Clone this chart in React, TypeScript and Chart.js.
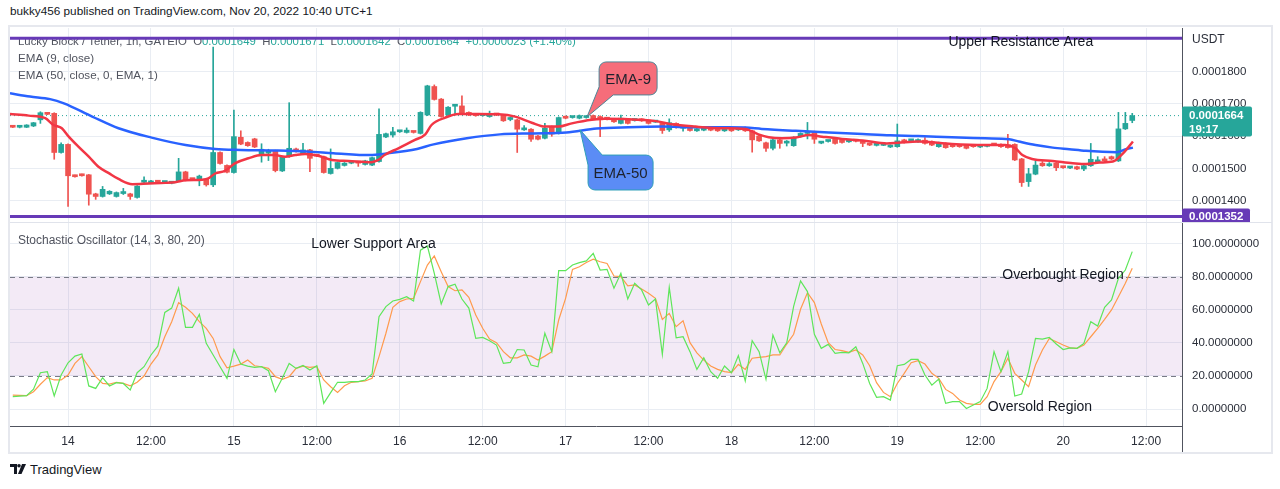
import React, { useEffect, useRef } from "react";
import { Chart, registerables } from "chart.js";

Chart.register(...registerables);

const FONT = '"Liberation Sans", Arial, sans-serif';

// ---- time axis (hours from Nov 14 00:00) ----
const FIRST_CANDLE_HOUR = -8;
const X_MIN = -8.4;
const X_MAX = 161.2;
const X_TICK_HOURS = [0, 12, 24, 36, 48, 60, 72, 84, 96, 108, 120, 132, 144, 156];
const X_TICK_LABELS = ["14", "12:00", "15", "12:00", "16", "12:00", "17", "12:00", "18", "12:00", "19", "12:00", "20", "12:00"];

// ---- price pane (values in units of 1e-7 USDT) ----
const PRICE_UNIT = 1e-7;
const PRICE_MIN = 1335;
const PRICE_MAX = 1935;
const PRICE_TICKS = [1400, 1500, 1600, 1700, 1800];
const RESISTANCE_LEVEL = 1903;
const SUPPORT_LEVEL = 1352;
const LAST_PRICE = 1664;
const LAST_PRICE_TIMER = "19:17";

const OPEN = [
  1629, 1628, 1628, 1632, 1651, 1671, 1671, 1550, 1575, 1478, 1481, 1481, 1422, 1414, 1422, 1414, 1423, 1422, 1411, 1458,
  1456, 1460, 1457, 1455, 1462, 1490, 1467, 1467, 1467, 1450, 1550, 1510, 1488, 1597, 1581, 1592, 1545, 1548, 1555, 1493,
  1537, 1561, 1545, 1558, 1541, 1537, 1485, 1501, 1510, 1517, 1518, 1513, 1511, 1522, 1598, 1604, 1614, 1612, 1613, 1609,
  1666, 1754, 1715, 1666, 1693, 1694, 1674, 1665, 1664, 1661, 1667, 1666, 1652, 1651, 1620, 1622, 1601, 1594, 1630, 1609,
  1661, 1658, 1656, 1658, 1664, 1661, 1654, 1653, 1640, 1653, 1649, 1653, 1648, 1644, 1640, 1620, 1640, 1625, 1630, 1617,
  1619, 1627, 1618, 1617, 1625, 1620, 1627, 1617, 1601, 1580, 1563, 1589, 1579, 1571, 1599, 1609, 1614, 1579, 1584, 1591,
  1589, 1583, 1586, 1584, 1574, 1572, 1572, 1567, 1568, 1589, 1586, 1583, 1588, 1584, 1568, 1578, 1569, 1569, 1573, 1569,
  1567, 1569, 1574, 1575, 1573, 1575, 1530, 1460, 1483, 1517, 1509, 1517, 1504, 1502, 1506, 1499, 1509, 1521, 1530, 1537,
  1524, 1623, 1649,
];
const HIGH = [
  1631, 1630, 1636, 1643, 1676, 1673, 1673, 1580, 1577, 1480, 1483, 1482, 1424, 1445, 1432, 1428, 1439, 1424, 1448, 1475,
  1464, 1462, 1459, 1460, 1532, 1492, 1469, 1480, 1469, 1876, 1552, 1512, 1681, 1617, 1583, 1594, 1577, 1560, 1557, 1537,
  1704, 1564, 1578, 1560, 1543, 1539, 1561, 1521, 1519, 1522, 1520, 1526, 1536, 1685, 1610, 1628, 1618, 1626, 1615, 1676,
  1758, 1759, 1717, 1692, 1699, 1725, 1676, 1667, 1667, 1678, 1669, 1668, 1659, 1653, 1633, 1624, 1603, 1640, 1632, 1660,
  1663, 1661, 1666, 1661, 1666, 1663, 1656, 1655, 1666, 1655, 1652, 1655, 1650, 1647, 1642, 1654, 1642, 1628, 1632, 1624,
  1629, 1629, 1619, 1625, 1627, 1622, 1629, 1619, 1603, 1582, 1591, 1591, 1587, 1599, 1611, 1643, 1616, 1582, 1587, 1593,
  1591, 1585, 1588, 1586, 1576, 1575, 1575, 1574, 1638, 1591, 1589, 1592, 1596, 1586, 1582, 1580, 1571, 1571, 1575, 1571,
  1570, 1572, 1578, 1577, 1606, 1577, 1532, 1501, 1524, 1522, 1519, 1519, 1506, 1505, 1508, 1511, 1578, 1537, 1537, 1539,
  1674, 1674, 1671,
];
const LOW = [
  1627, 1626, 1627, 1630, 1640, 1667, 1529, 1548, 1383, 1474, 1477, 1387, 1405, 1412, 1420, 1412, 1420, 1405, 1409, 1456,
  1454, 1456, 1455, 1453, 1460, 1462, 1464, 1447, 1446, 1444, 1514, 1487, 1486, 1574, 1569, 1565, 1520, 1525, 1490, 1491,
  1535, 1551, 1543, 1491, 1537, 1486, 1483, 1499, 1508, 1515, 1507, 1511, 1509, 1520, 1596, 1597, 1612, 1610, 1610, 1607,
  1664, 1712, 1659, 1664, 1666, 1671, 1664, 1662, 1662, 1659, 1664, 1646, 1648, 1550, 1618, 1584, 1589, 1592, 1600, 1607,
  1654, 1656, 1654, 1656, 1652, 1599, 1651, 1643, 1638, 1638, 1647, 1646, 1638, 1643, 1609, 1615, 1625, 1616, 1616, 1615,
  1617, 1617, 1615, 1615, 1615, 1618, 1615, 1551, 1584, 1553, 1558, 1563, 1570, 1569, 1597, 1592, 1578, 1577, 1582, 1576,
  1579, 1581, 1583, 1568, 1571, 1570, 1571, 1565, 1566, 1579, 1584, 1581, 1576, 1571, 1566, 1563, 1566, 1566, 1561, 1566,
  1565, 1567, 1571, 1566, 1563, 1525, 1445, 1445, 1481, 1507, 1507, 1494, 1501, 1500, 1497, 1494, 1507, 1519, 1522, 1528,
  1522, 1621, 1642,
];
const CLOSE = [
  1628, 1629, 1635, 1642, 1673, 1668, 1550, 1575, 1478, 1475, 1478, 1421, 1414, 1436, 1430, 1426, 1425, 1414, 1446, 1460,
  1462, 1458, 1458, 1457, 1490, 1464, 1466, 1477, 1450, 1550, 1516, 1489, 1599, 1576, 1571, 1567, 1560, 1553, 1494, 1535,
  1563, 1553, 1558, 1532, 1539, 1488, 1501, 1519, 1517, 1519, 1517, 1524, 1534, 1606, 1608, 1614, 1616, 1619, 1612, 1674,
  1756, 1714, 1661, 1690, 1695, 1673, 1666, 1664, 1665, 1671, 1666, 1648, 1654, 1622, 1625, 1591, 1591, 1625, 1607, 1658,
  1656, 1659, 1664, 1659, 1654, 1651, 1653, 1645, 1656, 1640, 1650, 1648, 1640, 1646, 1618, 1642, 1627, 1627, 1618, 1622,
  1627, 1619, 1617, 1623, 1617, 1621, 1617, 1589, 1586, 1563, 1589, 1578, 1581, 1597, 1609, 1614, 1591, 1581, 1586, 1578,
  1581, 1584, 1585, 1578, 1573, 1574, 1573, 1572, 1586, 1581, 1588, 1590, 1578, 1573, 1580, 1565, 1568, 1568, 1563, 1568,
  1568, 1571, 1573, 1568, 1565, 1527, 1457, 1484, 1511, 1509, 1514, 1503, 1503, 1504, 1499, 1509, 1529, 1523, 1524, 1530,
  1623, 1640, 1664,
];

// EMA lines: [hour, value]
const EMA9: [number, number][] = [
  [-8.4, 1669], [-5.7, 1664], [-3.3, 1656], [-2.1, 1635], [-0.9, 1625], [0.1, 1599], [1.5, 1568], [3, 1537], [4.4, 1506],
  [5.9, 1486], [7.3, 1468], [9.3, 1452], [11.7, 1454], [14.1, 1456], [15.5, 1458], [17, 1464], [19.4, 1466], [20.3, 1470],
  [21.3, 1485], [22.7, 1493], [24.2, 1517], [26.1, 1532], [28, 1542], [29.9, 1542], [31.4, 1537], [32.9, 1542], [34.3, 1545],
  [36.2, 1540], [38.2, 1527], [40.6, 1524], [43.9, 1520], [44.9, 1527], [45.8, 1542], [47.8, 1563], [50.2, 1589], [51.7, 1606],
  [52.6, 1635], [54.6, 1658], [56.5, 1669], [59.4, 1669], [62.3, 1668], [64.7, 1661], [67.1, 1642], [69, 1630], [71, 1630],
  [72.9, 1640], [75.8, 1651], [77.7, 1654], [81.1, 1653], [85, 1647], [87.4, 1637], [90.8, 1630], [94.6, 1625], [98, 1623],
  [99.9, 1606], [101.4, 1597], [103.3, 1594], [105.3, 1596], [107.2, 1604], [109.1, 1599], [112, 1592], [115, 1587],
  [118.5, 1578], [120.1, 1580], [123, 1584], [127.9, 1576], [132.7, 1573], [135.6, 1573], [137.1, 1563], [138.1, 1542],
  [139.5, 1530], [142.5, 1524], [145.4, 1517], [147.3, 1514], [149.3, 1519], [151.2, 1522], [152.7, 1548], [154.1, 1584],
];
const EMA50: [number, number][] = [
  [-8.4, 1733], [-5.5, 1723], [-2.6, 1715], [-0.6, 1702], [3.5, 1661], [7.3, 1625], [12.1, 1596], [17, 1573], [21.3, 1561],
  [25, 1558], [30, 1556], [34.5, 1553], [38.4, 1548], [43.7, 1542], [46.1, 1547], [50.5, 1561], [52.9, 1575], [57.7, 1594],
  [62.5, 1606], [67.3, 1609], [72.1, 1612], [76.5, 1624], [81.1, 1628], [86, 1630], [90.8, 1628], [95.6, 1628], [98, 1627],
  [100.4, 1623], [105.3, 1617], [110.1, 1612], [115, 1607], [119, 1603], [123, 1601], [127.9, 1597], [132.7, 1594],
  [136.2, 1591], [137.6, 1584], [140, 1573], [142.5, 1565], [144.9, 1560], [147.3, 1555], [149.7, 1552], [151.7, 1551],
  [153.2, 1561], [154.1, 1565],
];

// ---- stochastic pane ----
const STOCH_MIN = -10.2;
const STOCH_MAX = 112.4;
const STOCH_TICKS = [0, 20, 40, 60, 80, 100];
const STOCH_UPPER = 80;
const STOCH_LOWER = 20;

const STOCH_K = [
  7.5, 7.8, 8.1, 12, 22, 22.6, 7.9, 20.6, 28,
  32, 33.3, 14, 12.5, 19, 14, 16, 15.5, 11.5, 22, 25.6, 32.7, 38, 58.4, 61, 73, 49.4, 49.4, 57.2, 39.7,
  32.7, 25.6, 18.6, 36, 27.2, 26, 25.2, 25.6, 23.2, 10.5, 18.6, 27.6, 24.6, 26.4, 23.6, 26.2, 3.5, 10, 16.2, 16.2,
  16.6, 16.6, 17.6, 21.2, 55.8, 61.9, 65.3, 66.3, 67.9, 65.3, 96, 98.5, 82, 63.5, 74, 75.4, 66.5, 61, 42.7, 43.3,
  41.3, 38.7, 27.6, 28.2, 36, 35.7, 26.6, 25.6, 45.8, 34.7, 83.6, 83.6, 87, 88.5, 89.5, 94, 84, 84.4, 73, 82,
  66.5, 76, 72,
  62.9, 66.5, 33, 73.6, 43.1, 43.7, 34.7, 24, 31, 22.6, 18.6, 26, 22, 32.3, 17, 41.3, 34.7, 18, 44.8, 34,
  40, 62, 77.4, 71, 45.2, 36.7, 39.1, 33.7, 34.3, 34, 37.7, 27.6, 15.5, 7.1, 7.5, 5.5, 26.2, 27, 30, 30,
  20.6, 14.5, 18.2, 3.5, 4.5, 4.5, 0.4, 2.5, 4.5, 12.5, 34.7, 22.6, 34.7, 7.9, 9.1, 22.6, 42.7, 42.3, 43.3, 39.3,
  36, 37, 36.7, 39.7, 52.8, 50.2, 61.5, 65.9, 79, 84, 95.1,
];
const STOCH_D = [
  8.5, 8.3, 8.1, 10.5, 15, 19, 17.6, 17.6, 20.6,
  27.6, 31.7, 25.6, 19.6, 15.5, 15.1, 16.2, 15.5, 14.1, 16.2, 20, 27.2, 32.7, 43.7, 52.8, 64.3, 61.5, 57.8, 52.8, 48.8,
  42.7, 31.7, 25, 26, 27.2, 29.6, 26.2, 25.6, 24.6, 19.6, 18, 19.6, 24.6, 26, 25.2, 25.6, 17.6, 13.5, 10.1, 14.1,
  16.2, 16.6, 17, 18.6, 31.7, 45.8, 61.5, 64.9, 66.5, 66.9, 77, 87, 92.5, 83, 74, 71.5, 72, 67.5, 56.8, 48.8,
  42.3, 40.1, 34.7, 31, 31, 32.7, 32, 29.6, 32, 34.7, 53.8, 66.9, 84.4, 86, 88.5, 90.5, 89, 88, 80.4, 80,
  74.4, 75, 72.5,
  70, 66.9, 54.2, 57.8, 49.8, 53.4, 40.1, 34, 29.6, 26, 24, 22.6, 22, 27, 24, 30.7, 31.3, 31.7, 32.7, 32.7,
  39.3, 45.2, 60.3, 70.3, 64.3, 51.4, 40.1, 36, 35.3, 34.3, 35.7, 32.7, 26.2, 16, 10.1, 7.5, 15.5, 21.6, 28, 29.2,
  27.2, 21.6, 18.6, 11.9, 9.5, 5.5, 3.5, 2.9, 2.9, 7.5, 16.6, 22.6, 30.7, 21.6, 17.6, 13.5, 26.6, 35.7, 42.7, 40.7,
  38.7, 37, 36.7, 38.7, 43.7, 48.8, 54.2, 59.9, 67.9, 76, 85,
];

// ---- styles ----
const UP = "#26a69a";
const DOWN = "#ef5350";
const GRID = "#e9edf3";
const AXIS_LINE = "#50535e";
const TEXT = "#2a2e39";
const LEGEND_GRAY = "#50535e";
const PURPLE = "#673ab7";
const EMA9_COLOR = "#f23645";
const EMA50_COLOR = "#2962ff";
const K_COLOR = "#5ee65a";
const D_COLOR = "#ff9a4d";

const candleHour = (i: number) => FIRST_CANDLE_HOUR + i;

function roundRectPath(ctx: any, l: number, t: number, r: number, b: number, rad: number) {
  ctx.moveTo(l + rad, t);
  ctx.lineTo(r - rad, t);
  ctx.arcTo(r, t, r, t + rad, rad);
  ctx.lineTo(r, b - rad);
  ctx.arcTo(r, b, r - rad, b, rad);
  ctx.lineTo(l + rad, b);
  ctx.arcTo(l, b, l, b - rad, rad);
  ctx.lineTo(l, t + rad);
  ctx.arcTo(l, t, l + rad, t, rad);
}

const topOverlay = {
  id: "topOverlay",
  beforeDatasetsDraw(chart: any) {
    const ctx = chart.ctx;
    ctx.save();
    ctx.textBaseline = "middle";
    ctx.font = `11.4px ${FONT}`;
    const parts: [string, string][] = [
      ["Lucky Block / Tether, 1h, GATEIO  ", LEGEND_GRAY],
      ["O", LEGEND_GRAY], ["0.0001649", UP],
      ["  H", LEGEND_GRAY], ["0.0001671", UP],
      ["  L", LEGEND_GRAY], ["0.0001642", UP],
      ["  C", LEGEND_GRAY], ["0.0001664", UP],
      ["  +0.0000023 (+1.40%)", UP],
    ];
    let x = 8;
    for (const [s, c] of parts) {
      ctx.fillStyle = c;
      ctx.fillText(s, x, 14);
      x += ctx.measureText(s).width;
    }
    ctx.font = `11.6px ${FONT}`;
    ctx.fillStyle = LEGEND_GRAY;
    ctx.fillText("EMA (9, close)", 8, 31);
    ctx.fillText("EMA (50, close, 0, EMA, 1)", 8, 48);
    ctx.restore();
  },
  afterDraw(chart: any) {
    const ctx = chart.ctx;
    const xs = chart.scales.x;
    const ys = chart.scales.y;
    const area = chart.chartArea;
    const X = (v: number) => xs.getPixelForValue(v);
    const Y = (v: number) => ys.getPixelForValue(v);
    ctx.save();

    // annotation text
    ctx.font = `14px ${FONT}`;
    ctx.fillStyle = "#131722";
    ctx.textBaseline = "middle";
    ctx.textAlign = "left";
    ctx.fillText("Upper Resistance Area", X(127.4), Y(1892));

    // callouts
    const callout = (box: number[], path: (l: number, t: number, r: number, b: number) => void, fill: string, stroke: string, label: string) => {
      const [h0, h1, p0, p1] = box;
      const l = X(h0), r = X(h1), t = Y(p1), b = Y(p0);
      ctx.beginPath();
      path(l, t, r, b);
      ctx.closePath();
      ctx.fillStyle = fill;
      ctx.fill();
      ctx.lineWidth = 1;
      ctx.strokeStyle = stroke;
      ctx.stroke();
      ctx.font = `15px ${FONT}`;
      ctx.fillStyle = "#1e222d";
      ctx.textAlign = "center";
      ctx.fillText(label, (l + r) / 2, (t + b) / 2 + 1);
    };
    const rad = 7;
    // EMA-9 (pointer from lower-left)
    callout([76.85, 85.24, 1728, 1830], (l, t, r, b) => {
      ctx.moveTo(l + rad, t);
      ctx.lineTo(r - rad, t);
      ctx.arcTo(r, t, r, t + rad, rad);
      ctx.lineTo(r, b - rad);
      ctx.arcTo(r, b, r - rad, b, rad);
      ctx.lineTo(X(78.9), b);
      ctx.lineTo(X(75.1), Y(1660));
      ctx.lineTo(l, Y(1753));
      ctx.lineTo(l, t + rad);
      ctx.arcTo(l, t, l + rad, t, rad);
    }, "#f66d7a", "#4d8596", "EMA-9");
    // EMA-50 (pointer from upper-left)
    callout([75.25, 84.66, 1434, 1542], (l, t, r, b) => {
      ctx.moveTo(X(77.3), t);
      ctx.lineTo(r - rad, t);
      ctx.arcTo(r, t, r, t + rad, rad);
      ctx.lineTo(r, b - rad);
      ctx.arcTo(r, b, r - rad, b, rad);
      ctx.lineTo(l + rad, b);
      ctx.arcTo(l, b, l, b - rad, rad);
      ctx.lineTo(l, Y(1511));
      ctx.lineTo(X(74.1), Y(1620));
    }, "#5b8cf5", "#2e9fb7", "EMA-50");

    // right-axis labels
    ctx.textAlign = "left";
    ctx.font = `12px ${FONT}`;
    ctx.fillStyle = TEXT;
    ctx.fillText("USDT", area.right + 10, 12);

    const yl = Y(LAST_PRICE);
    ctx.beginPath();
    roundRectPath(ctx, area.right, yl - 9, area.right + 70, yl + 21, 2);
    ctx.fillStyle = UP;
    ctx.fill();
    ctx.fillStyle = "#ffffff";
    ctx.font = `bold 11.5px ${FONT}`;
    ctx.fillText((LAST_PRICE * PRICE_UNIT).toFixed(7), area.right + 7, yl);
    ctx.fillText(LAST_PRICE_TIMER, area.right + 7, yl + 14);

    const ys2 = Y(SUPPORT_LEVEL);
    ctx.beginPath();
    roundRectPath(ctx, area.right, ys2 - 8, area.right + 68, ys2 + 8, 2);
    ctx.fillStyle = PURPLE;
    ctx.fill();
    ctx.fillStyle = "#ffffff";
    ctx.fillText((SUPPORT_LEVEL * PRICE_UNIT).toFixed(7), area.right + 7, ys2);
    ctx.restore();
  },
};

const bottomOverlay = {
  id: "bottomOverlay",
  beforeDatasetsDraw(chart: any) {
    const ctx = chart.ctx;
    const ys = chart.scales.y;
    const area = chart.chartArea;
    const yU = ys.getPixelForValue(STOCH_UPPER);
    const yL = ys.getPixelForValue(STOCH_LOWER);
    ctx.save();
    ctx.fillStyle = "rgba(149, 60, 170, 0.11)";
    ctx.fillRect(area.left, yU, area.right - area.left, yL - yU);
    ctx.strokeStyle = "#787b86";
    ctx.lineWidth = 1;
    ctx.setLineDash([5, 4]);
    for (const y of [yU, yL]) {
      ctx.beginPath();
      ctx.moveTo(area.left, Math.round(y) + 0.5);
      ctx.lineTo(area.right, Math.round(y) + 0.5);
      ctx.stroke();
    }
    ctx.setLineDash([]);
    ctx.font = `12px ${FONT}`;
    ctx.fillStyle = LEGEND_GRAY;
    ctx.textBaseline = "middle";
    ctx.fillText("Stochastic Oscillator (14, 3, 80, 20)", 8, 18);
    ctx.restore();
  },
  afterDraw(chart: any) {
    const ctx = chart.ctx;
    const xs = chart.scales.x;
    const ys = chart.scales.y;
    const area = chart.chartArea;
    const X = (v: number) => xs.getPixelForValue(v);
    const Y = (v: number) => ys.getPixelForValue(v);
    ctx.save();
    ctx.font = `14px ${FONT}`;
    ctx.fillStyle = "#131722";
    ctx.textBaseline = "middle";
    ctx.fillText("Lower Support Area", X(35.2), Y(99.8));
    ctx.fillText("Overbought Region", X(135.2), Y(81));
    ctx.fillText("Oversold Region", X(133.1), Y(1.3));
    // axis separator continuing below the pane
    ctx.strokeStyle = AXIS_LINE;
    ctx.lineWidth = 1;
    ctx.beginPath();
    ctx.moveTo(Math.round(area.right) + 0.5, area.bottom);
    ctx.lineTo(Math.round(area.right) + 0.5, chart.height);
    ctx.stroke();
    ctx.restore();
  },
};

function xScale(showTicks: boolean) {
  return {
    type: "linear",
    min: X_MIN,
    max: X_MAX,
    offset: false,
    afterBuildTicks: (s: any) => {
      s.ticks = X_TICK_HOURS.map((v) => ({ value: v }));
    },
    afterFit: (s: any) => {
      s.height = showTicks ? 26 : 0;
      s.paddingLeft = 0;
      s.paddingRight = 0;
    },
    grid: { color: GRID, drawTicks: false, offset: false },
    border: { display: showTicks, color: AXIS_LINE },
    ticks: {
      display: showTicks,
      padding: 8,
      color: TEXT,
      autoSkip: false,
      maxRotation: 0,
      font: { family: FONT, size: 12 },
      callback: (_v: any, i: number) => X_TICK_LABELS[i],
    },
  };
}

function yScale(min: number, max: number, ticks: number[], fmt: (v: number) => string) {
  return {
    position: "right",
    min,
    max,
    afterBuildTicks: (s: any) => {
      s.ticks = ticks.map((v) => ({ value: v }));
    },
    afterFit: (s: any) => {
      s.width = 90;
      s.paddingTop = 0;
      s.paddingBottom = 0;
    },
    grid: { color: GRID, drawTicks: false },
    border: { display: true, color: AXIS_LINE },
    ticks: {
      padding: 10,
      color: TEXT,
      font: { family: FONT, size: 11.5 },
      callback: (v: any) => fmt(Number(v)),
    },
  };
}

export default function App() {
  const topRef = useRef<HTMLCanvasElement>(null);
  const botRef = useRef<HTMLCanvasElement>(null);

  useEffect(() => {
    const colors = OPEN.map((o, i) => (CLOSE[i] >= o ? UP : DOWN));
    const wicks = OPEN.map((_, i) => ({ x: candleHour(i), y: [LOW[i], HIGH[i]] }));
    const bodies = OPEN.map((o, i) => ({ x: candleHour(i), y: [o, CLOSE[i]] }));
    const hline = (v: number) => [
      { x: X_MIN, y: v },
      { x: X_MAX, y: v },
    ];

    const top = new Chart(topRef.current as HTMLCanvasElement, {
      type: "bar",
      data: {
        datasets: [
          { type: "line", data: hline(RESISTANCE_LEVEL), borderColor: PURPLE, borderWidth: 3, pointRadius: 0, order: -1 },
          { type: "line", data: hline(SUPPORT_LEVEL), borderColor: PURPLE, borderWidth: 3, pointRadius: 0, order: -1 },
          {
            type: "line",
            data: EMA9.map(([x, y]) => ({ x, y })),
            borderColor: EMA9_COLOR,
            borderWidth: 2.5,
            pointRadius: 0,
            cubicInterpolationMode: "monotone",
            order: 0,
          },
          {
            type: "line",
            data: EMA50.map(([x, y]) => ({ x, y })),
            borderColor: EMA50_COLOR,
            borderWidth: 2.5,
            pointRadius: 0,
            cubicInterpolationMode: "monotone",
            order: 0,
          },
          { type: "bar", data: bodies, backgroundColor: colors, barThickness: 5, minBarLength: 2, grouped: false, order: 1 },
          { type: "bar", data: wicks, backgroundColor: colors, barThickness: 1, grouped: false, order: 2 },
          {
            type: "line",
            data: hline(LAST_PRICE),
            borderColor: UP,
            borderWidth: 1,
            borderDash: [1, 3],
            pointRadius: 0,
            order: 3,
          },
        ],
      } as any,
      options: {
        animation: false,
        responsive: false,
        events: [],
        layout: { padding: 0 },
        plugins: { legend: { display: false }, tooltip: { enabled: false } },
        scales: {
          x: xScale(false),
          y: yScale(PRICE_MIN, PRICE_MAX, PRICE_TICKS, (v) => (v * PRICE_UNIT).toFixed(7)),
        } as any,
      },
      plugins: [topOverlay],
    });

    const bot = new Chart(botRef.current as HTMLCanvasElement, {
      type: "line",
      data: {
        datasets: [
          {
            data: STOCH_D.map((v, i) => ({ x: candleHour(i), y: v })),
            borderColor: D_COLOR,
            borderWidth: 1.2,
            pointRadius: 0,
            order: 1,
          },
          {
            data: STOCH_K.map((v, i) => ({ x: candleHour(i), y: v })),
            borderColor: K_COLOR,
            borderWidth: 1.2,
            pointRadius: 0,
            order: 0,
          },
        ],
      } as any,
      options: {
        animation: false,
        responsive: false,
        events: [],
        layout: { padding: 0 },
        plugins: { legend: { display: false }, tooltip: { enabled: false } },
        scales: {
          x: xScale(true),
          y: yScale(STOCH_MIN, STOCH_MAX, STOCH_TICKS, (v) => v.toFixed(7)),
        } as any,
      },
      plugins: [bottomOverlay],
    });

    return () => {
      top.destroy();
      bot.destroy();
    };
  }, []);

  return (
    <div
      style={{
        position: "absolute",
        left: 0,
        top: 0,
        width: 1280,
        height: 489,
        background: "#ffffff",
        fontFamily: FONT,
        overflow: "hidden",
      }}
    >
      <div style={{ position: "absolute", left: 10, top: 4, fontSize: 11.75, color: "#131722", whiteSpace: "nowrap" }}>
        bukky456 published on TradingView.com, Nov 20, 2022 10:40 UTC+1
      </div>
      <div
        style={{
          position: "absolute",
          left: 8,
          top: 25,
          width: 1265,
          height: 429,
          border: "2px solid #e6e8ee",
          boxSizing: "border-box",
        }}
      />
      <div style={{ position: "absolute", left: 10, top: 222, width: 1262, height: 1, background: "#e0e3eb" }} />
      <canvas ref={topRef} width={1262} height={194} style={{ position: "absolute", left: 10, top: 28 }} />
      <canvas ref={botRef} width={1262} height={229} style={{ position: "absolute", left: 10, top: 223 }} />
      <div style={{ position: "absolute", left: 10, top: 462, display: "flex", alignItems: "center", gap: 4 }}>
        <svg width="16" height="11" viewBox="0 0 16 11">
          <path d="M0 0 H7 V10 H4 V3 H0 Z" fill="#131722" />
          <circle cx="9" cy="1.8" r="1.8" fill="#131722" />
          <path d="M12 0 H16 L11.5 10 H8 Z" fill="#131722" />
        </svg>
        <span style={{ fontSize: 13, color: "#131722" }}>TradingView</span>
      </div>
    </div>
  );
}
